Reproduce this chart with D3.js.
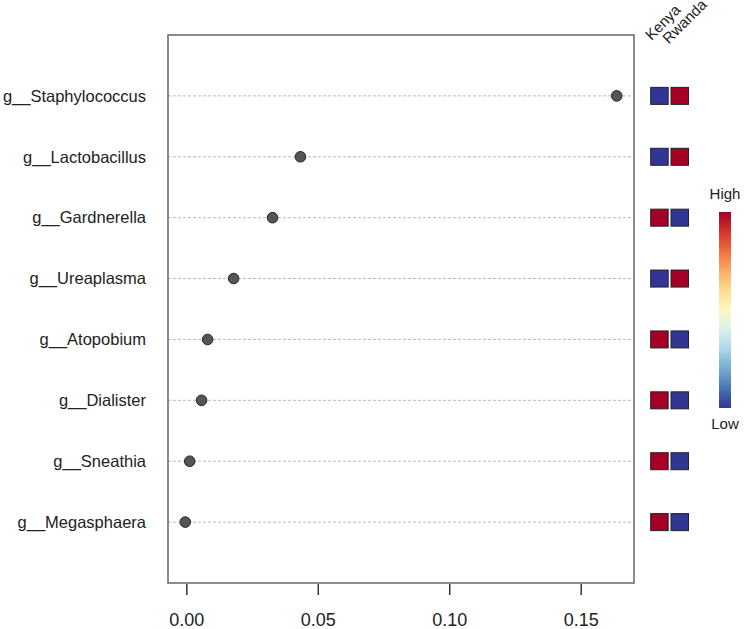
<!DOCTYPE html>
<html>
<head>
  <meta charset="utf-8">
  <title></title>
  <style>
    body { margin: 0; background: #fff; }
    text { font-family: "Liberation Sans", Arial, sans-serif; fill: #222; }
  </style>
</head>
<body>
  <script src="https://cdn.jsdelivr.net/npm/d3@7"></script>
  <script>
    // data
    var genera = ["g__Staphylococcus", "g__Lactobacillus", "g__Gardnerella", "g__Ureaplasma",
                  "g__Atopobium", "g__Dialister", "g__Sneathia", "g__Megasphaera"];
    var importance = [0.1637, 0.0434, 0.0328, 0.0180, 0.0081, 0.0058, 0.0013, -0.0004];
    var groups = ["Kenya", "Rwanda"];
    // relative level per group (1 = high, 0 = low)
    var kenya  = [0, 0, 1, 0, 1, 1, 1, 1];
    var rwanda = [1, 1, 0, 1, 0, 0, 0, 0];
    var xTicks = [0, 0.05, 0.10, 0.15];

    var W = 744, H = 629;
    var box = {left: 168, right: 634, top: 35, bottom: 583};

    var svg = d3.select("body").append("svg")
      .attr("width", W)
      .attr("height", H);

    // R style 4% padding on x
    var xmin = d3.min(importance), xmax = d3.max(importance);
    var pad = (xmax - xmin) * 0.04;
    var x = d3.scaleLinear().domain([xmin - pad, xmax + pad]).range([box.left, box.right]);
    var y = d3.scaleLinear().domain([0, genera.length + 1]).range([box.top, box.bottom]);

    var color = d3.scaleSequential(function (t) { return d3.interpolateRdYlBu(1 - t); }).domain([0, 1]);

    // dotted guide lines
    svg.selectAll(".guide")
      .data(genera)
      .enter().append("line")
      .attr("x1", box.left).attr("x2", box.right)
      .attr("y1", function (d, i) { return y(i + 1); })
      .attr("y2", function (d, i) { return y(i + 1); })
      .attr("stroke", "#bbb")
      .attr("stroke-width", 1)
      .attr("stroke-dasharray", "3,2");

    // box
    svg.append("rect")
      .attr("x", box.left).attr("y", box.top)
      .attr("width", box.right - box.left)
      .attr("height", box.bottom - box.top)
      .attr("fill", "none")
      .attr("stroke", "#666")
      .attr("stroke-width", 1.5);

    // points
    svg.selectAll(".pt")
      .data(importance)
      .enter().append("circle")
      .attr("cx", function (d) { return x(d); })
      .attr("cy", function (d, i) { return y(i + 1); })
      .attr("r", 5.3)
      .attr("fill", "#555")
      .attr("stroke", "#222")
      .attr("stroke-width", 1);

    // row labels
    svg.selectAll(".lab")
      .data(genera)
      .enter().append("text")
      .attr("x", 146)
      .attr("y", function (d, i) { return y(i + 1); })
      .attr("dy", "0.35em")
      .attr("text-anchor", "end")
      .style("font-size", "16.5px")
      .text(function (d) { return d; });

    // x axis
    var xAxis = svg.append("g")
      .attr("transform", "translate(0," + (box.bottom + 1) + ")")
      .call(d3.axisBottom(x).tickValues(xTicks).tickFormat(d3.format(".2f")).tickSize(11).tickPadding(18));
    xAxis.select(".domain").remove();
    xAxis.selectAll("line").attr("stroke", "#333").attr("stroke-width", 1.5);
    xAxis.selectAll("text")
      .style("font-family", "'Liberation Sans', Arial, sans-serif")
      .style("font-size", "18px")
      .attr("fill", "#222");

    // heatmap squares
    var gx = d3.scaleBand().domain(groups).range([650.7, 688.5]).paddingInner(0.14);
    var cells = [];
    genera.forEach(function (g, i) {
      cells.push({row: i, group: "Kenya", v: kenya[i]});
      cells.push({row: i, group: "Rwanda", v: rwanda[i]});
    });
    var cellH = 17;
    svg.selectAll(".cell")
      .data(cells)
      .enter().append("rect")
      .attr("x", function (d) { return gx(d.group); })
      .attr("y", function (d) { return y(d.row + 1) - cellH / 2; })
      .attr("width", gx.bandwidth())
      .attr("height", cellH)
      .attr("fill", function (d) { return color(d.v); })
      .attr("stroke", "#222")
      .attr("stroke-width", 1);

    // group labels, rotated
    svg.selectAll(".glab")
      .data(groups)
      .enter().append("text")
      .attr("transform", function (d, i) {
        var cx = gx(d) + gx.bandwidth() / 2;
        return "translate(" + (cx - 8 - i * 3) + "," + (41 + i * 3.5) + ") rotate(-45)";
      })
      .style("font-size", "15px")
      .text(function (d) { return d; });

    // colour key
    var defs = svg.append("defs");
    var grad = defs.append("linearGradient")
      .attr("id", "key")
      .attr("x1", 0).attr("y1", 1).attr("x2", 0).attr("y2", 0);
    d3.range(0, 1.0001, 0.1).forEach(function (t) {
      grad.append("stop").attr("offset", t).attr("stop-color", color(t));
    });
    var key = {x: 719, y: 212, w: 12, h: 196};
    svg.append("rect")
      .attr("x", key.x).attr("y", key.y)
      .attr("width", key.w).attr("height", key.h)
      .attr("fill", "url(#key)");
    svg.append("text")
      .attr("x", key.x + key.w / 2).attr("y", key.y - 13)
      .attr("text-anchor", "middle")
      .style("font-size", "15px")
      .text("High");
    svg.append("text")
      .attr("x", key.x + key.w / 2).attr("y", key.y + key.h + 21)
      .attr("text-anchor", "middle")
      .style("font-size", "15px")
      .text("Low");
  </script>
</body>
</html>
